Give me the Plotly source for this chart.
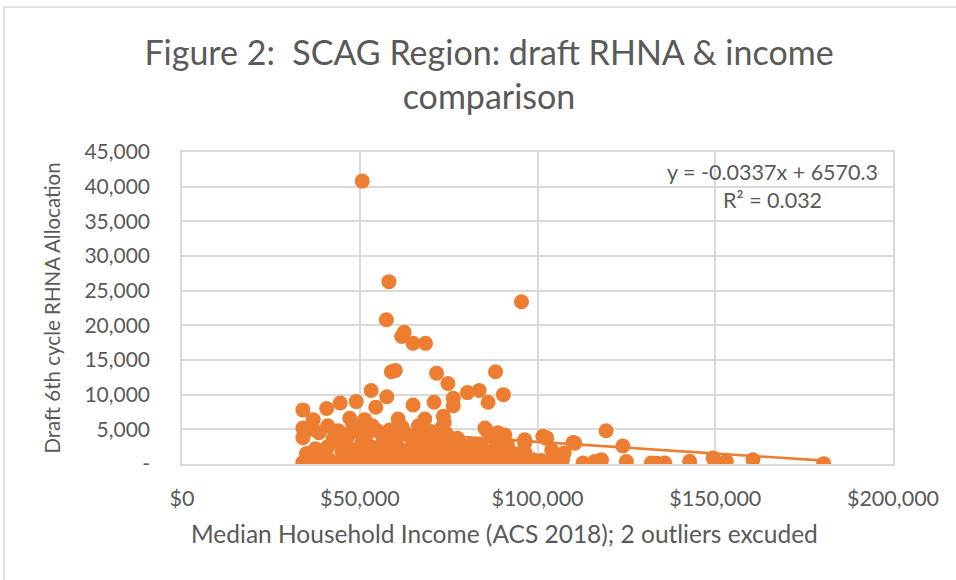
import plotly.graph_objects as go

# ---- data ----
income_high = [50700, 58200, 95500, 57500, 62500, 61800, 65000, 68500, 58900, 60000,
               71600, 88200, 74800, 53200, 57600, 80300, 83600, 90400, 86100, 76300,
               76300, 70900, 65000, 34000, 40700, 44500, 49000, 54500, 60800, 68300,
               73500, 73800, 36900, 47200, 51400, 34000, 34000]
rhna_high = [40800, 26300, 23400, 20800, 19000, 18400, 17400, 17400, 13300, 13500,
             13100, 13300, 11600, 10600, 9700, 10300, 10600, 10000, 8900, 9500,
             8400, 8900, 8500, 7800, 8000, 8800, 9000, 8200, 6500, 6500,
             6900, 6000, 6400, 6600, 6400, 3800, 5200]

income_mid = [36800, 38500, 41000, 42500, 44000, 46700, 48000, 50000, 51900, 53500,
              55000, 56500, 58400, 60000, 62000, 63500, 65000, 66500, 68000, 70000,
              71500, 73000, 74500, 76000, 77500, 79000, 81400, 84200, 85200, 85600,
              87000, 88900, 90800, 89500, 91500, 96400, 96400, 101500, 102500, 102500,
              110000, 110500, 119300, 124000]
rhna_mid = [5000, 4500, 5500, 3700, 4800, 4000, 5600, 4500, 4200, 5500,
            4800, 3300, 4900, 3600, 5300, 4200, 3200, 5500, 3800, 4700,
            3400, 5200, 4300, 3000, 3700, 2700, 2800, 2800, 5200, 4900,
            4000, 4500, 4200, 3300, 2900, 3500, 3000, 4000, 3800, 3700,
            3100, 3000, 4800, 2600]

income_low = [35000, 37500, 39000, 41000, 43400, 45000, 46500, 48500, 50500, 52000,
              53500, 55500, 57000, 58500, 60500, 62000, 63500, 65500, 67000, 68500,
              70000, 72000, 73500, 75500, 77000, 78500, 80000, 82500, 84000, 86500,
              88000, 90000, 92000, 94000, 96500, 98700, 103400, 104000, 107000, 107500]
rhna_low = [1500, 2200, 1200, 2500, 3300, 1800, 2600, 1400, 2900, 1900,
            2400, 1200, 2200, 1700, 2700, 1400, 2000, 2600, 1500, 2300,
            1100, 1900, 2600, 1300, 2100, 1600, 2300, 1500, 2000, 1300,
            2200, 1700, 2000, 1400, 1600, 600, 400, 2000, 600, 1600]

income_base = [34000, 35500, 37000, 38500, 40000, 41500, 43000, 44500, 46000, 47500,
               49000, 50500, 52000, 53500, 55000, 56500, 58000, 59500, 61000, 62500,
               64000, 65500, 67000, 68500, 70000, 71500, 73000, 74500, 76000, 77500,
               79000, 80500, 82000, 83500, 85000, 86500, 88000, 89500, 91000, 92500,
               94000, 97000, 99000, 101000, 103500, 105000, 112800, 116100, 118000, 125000,
               132000, 133500, 135800, 142800, 149400, 150000, 150300, 153100, 160600, 180500]
rhna_base = [200, 500, 100, 700, 300, 600, 150, 400, 800, 250,
             500, 100, 600, 300, 700, 200, 450, 100, 650, 300,
             150, 550, 250, 700, 100, 400, 200, 600, 300, 100,
             500, 250, 650, 150, 400, 200, 600, 100, 350, 500,
             200, 300, 100, 500, 200, 300, 150, 370, 620, 370,
             150, 120, 150, 400, 860, 200, 0, 380, 620, 50]

income = income_high + income_mid + income_low + income_base
rhna = rhna_high + rhna_mid + rhna_low + rhna_base

trend_slope = -0.0337
trend_intercept = 6570.3

x_ticks = [0, 50000, 100000, 150000, 200000]
x_ticktext = ["$0", "$50,000", "$100,000", "$150,000", "$200,000"]
y_ticks = [0, 5000, 10000, 15000, 20000, 25000, 30000, 35000, 40000, 45000]
y_ticktext = ["-", "5,000", "10,000", "15,000", "20,000", "25,000", "30,000",
              "35,000", "40,000", "45,000"]

ORANGE = "#ED7D31"
GRAY_TXT = "#595959"
GRID = "#D9D9D9"
FONT = "Lato"

fig = go.Figure()
fig.add_trace(go.Scatter(
    x=income, y=rhna, mode="markers",
    marker=dict(color=ORANGE, size=15, line=dict(width=0)),
    hoverinfo="x+y", showlegend=False))

tx = [min(income), max(income)]
ty = [trend_slope * v + trend_intercept for v in tx]
fig.add_trace(go.Scatter(x=tx, y=ty, mode="lines",
                         line=dict(color=ORANGE, width=2.6), showlegend=False))

# plot area pixel geometry
L, R, T, B = 182, 893, 152, 464
W, H = 956, 580

def px_x(p):
    return (p - L) / (R - L)

def px_y(p):
    return (B - p) / (B - T)

fig.update_layout(
    width=W, height=H,
    margin=dict(l=L, r=W - R, t=T, b=H - B, pad=0),
    paper_bgcolor="white", plot_bgcolor="white",
    font=dict(family=FONT, color=GRAY_TXT, size=18),
    title=dict(text="Figure 2:  SCAG Region: draft RHNA & income<br>comparison",
               x=489 / W, xanchor="center", y=1 - 65 / H, yanchor="middle",
               font=dict(family=FONT, size=34, color=GRAY_TXT)),
    xaxis=dict(range=[0, 200000], tickvals=x_ticks, ticktext=x_ticktext,
               showgrid=True, gridcolor=GRID, gridwidth=1.5, zeroline=False,
               showline=True, linecolor=GRID, linewidth=1.5, mirror=True,
               ticks="outside", ticklen=14, tickcolor="rgba(0,0,0,0)",
               tickfont=dict(size=21.5, color=GRAY_TXT, family=FONT)),
    yaxis=dict(range=[0, 45000], tickvals=y_ticks, ticktext=y_ticktext,
               showgrid=True, gridcolor=GRID, gridwidth=1.5, zeroline=False,
               showline=True, linecolor=GRID, linewidth=1.5, mirror=True,
               ticks="outside", ticklen=26, tickcolor="rgba(0,0,0,0)",
               tickfont=dict(size=21, color=GRAY_TXT, family=FONT),
               title=dict(text="Draft 6th cycle RHNA Allocation",
                          font=dict(size=20.5, color=GRAY_TXT, family=FONT), standoff=18)),
    annotations=[
        dict(xref="paper", yref="paper", x=px_x(772), y=px_y(186),
             text="y = -0.0337x + 6570.3<br>R² = 0.032", showarrow=False,
             align="center", xanchor="center", yanchor="middle",
             font=dict(size=21.5, color=GRAY_TXT, family=FONT)),
        dict(xref="paper", yref="paper", x=px_x(504), y=px_y(533),
             text="Median Household Income (ACS 2018); 2 outliers excuded",
             showarrow=False, xanchor="center", yanchor="middle",
             font=dict(size=24.5, color=GRAY_TXT, family=FONT)),
    ],
    shapes=[dict(type="rect", xref="paper", yref="paper",
                 x0=px_x(4), x1=px_x(1000), y0=px_y(640), y1=px_y(7),
                 line=dict(color=GRID, width=1.5), fillcolor="rgba(0,0,0,0)",
                 layer="below")],
)

fig.write_html("out.html", config={"displayModeBar": False},
               post_script="document.body.style.margin='0';")
